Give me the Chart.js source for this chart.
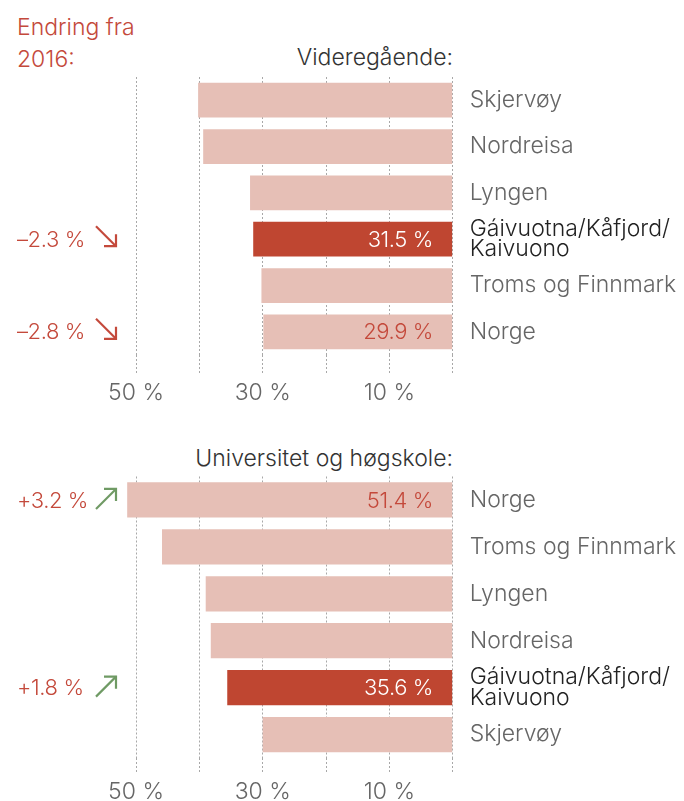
<!DOCTYPE html>
<html>
<head>
<meta charset="utf-8">
<script src="https://cdn.jsdelivr.net/npm/chart.js@4"></script>
<style>
  html, body { margin: 0; padding: 0; background: #fff; }
  body { width: 684px; height: 801px; position: relative; overflow: hidden;
         font-family: Inter, "Open Sans", sans-serif; font-weight: 300; }
  canvas { position: absolute; left: 0; }
  .txt { position: absolute; font-size: 23px; line-height: 32px; white-space: nowrap; }
  #endring { left: 17px; top: 11px; color: #c4493b; }
  .head { right: 231px; color: #333; }
</style>
</head>
<body>
<div class="txt" id="endring">Endring fra<br>2016:</div>
<div class="txt head" style="top:41px">Videregående:</div>
<div class="txt head" style="top:442px">Universitet og høgskole:</div>
<canvas id="chartVgs" width="684" height="410" style="top:0"></canvas>
<canvas id="chartUni" width="684" height="391" style="top:410px"></canvas>
<script>
// data
const catsVgs = ["Skjervøy", "Nordreisa", "Lyngen", ["Gáivuotna/Kåfjord/", "Kaivuono"], "Troms og Finnmark", "Norge"];
const valsVgs = [40.2, 39.4, 32.0, 31.5, 30.2, 29.9];
const changeVgs = [null, null, null, -2.3, null, -2.8];

const catsUni = ["Norge", "Troms og Finnmark", "Lyngen", "Nordreisa", ["Gáivuotna/Kåfjord/", "Kaivuono"], "Skjervøy"];
const valsUni = [51.4, 45.9, 39.0, 38.2, 35.6, 30.0];
const changeUni = [3.2, null, null, null, 1.8, null];

const xTicks = [0, 10, 20, 30, 40, 50];
const xLabelled = [50, 30, 10];
const xMax = 55;

// farger
const LIGHT = "#e6bfb6";
const DARK = "#bf4631";
const RED = "#c4493b";
const GREEN = "#6f9a64";
const FONT = "Inter, 'Open Sans', sans-serif";

function isHighlight(label) {
  return Array.isArray(label);
}

function fmt(v) {
  return v.toFixed(1) + " %";
}

function fmtChange(v) {
  return (v < 0 ? "\u2013" : "+") + Math.abs(v).toFixed(1) + " %";
}

// tekst og piler for endring + verdier i stolpene
const annotations = {
  id: "annotations",
  afterDatasetsDraw(chart, args, opts) {
    const ctx = chart.ctx;
    const y = chart.scales.y;
    const vals = chart.data.datasets[0].data;
    ctx.save();
    ctx.font = "300 22px " + FONT;
    ctx.letterSpacing = "-0.4px";
    ctx.textBaseline = "middle";
    opts.changes.forEach((c, i) => {
      if (c === null) return;
      const yc = y.getPixelForValue(i);
      const hl = isHighlight(chart.data.labels[i]);
      // verdi i stolpen
      ctx.fillStyle = hl ? "#fff" : RED;
      ctx.textAlign = "right";
      ctx.fillText(fmt(vals[i]), 433, yc + 1);
      // endring til venstre
      ctx.fillStyle = RED;
      ctx.textAlign = "left";
      ctx.fillText(fmtChange(c), 17, yc + 1);
      // pil
      const up = c > 0;
      const x0 = 96, x1 = 116;
      const ya = up ? yc + 9 : yc - 13;
      const yb = up ? yc - 11 : yc + 7;
      ctx.strokeStyle = up ? GREEN : RED;
      ctx.lineWidth = 2.2;
      ctx.beginPath();
      ctx.moveTo(x0, ya);
      ctx.lineTo(x1, yb);
      ctx.stroke();
      ctx.beginPath();
      ctx.moveTo(x1 - 12, yb);
      ctx.lineTo(x1, yb);
      ctx.lineTo(x1, up ? yb + 12 : yb - 12);
      ctx.stroke();
    });
    ctx.restore();
  }
};

function makeChart(id, cats, vals, changes, padTop, areaBottom, canvasH, tickLen) {
  const ctx = document.getElementById(id).getContext("2d");
  return new Chart(ctx, {
    type: "bar",
    data: {
      labels: cats,
      datasets: [{
        data: vals,
        backgroundColor: cats.map(c => isHighlight(c) ? DARK : LIGHT),
        borderWidth: 0,
        barPercentage: 0.75,
        categoryPercentage: 1
      }]
    },
    plugins: [annotations],
    options: {
      indexAxis: "y",
      responsive: false,
      animation: false,
      layout: { padding: { top: padTop, bottom: 0, left: 452.7 - xMax * 6.333, right: 0 } },
      plugins: {
        legend: { display: false },
        tooltip: { enabled: false },
        annotations: { changes }
      },
      scales: {
        x: {
          type: "linear",
          reverse: true,
          min: 0,
          max: xMax,
          afterBuildTicks: s => { s.ticks = xTicks.map(v => ({ value: v })); },
          afterFit: s => { s.height = canvasH - areaBottom; },
          border: { display: false, dash: [2, 2] },
          grid: {
            color: "#a8a8a8",
            lineWidth: 1,
            tickBorderDash: [2, 2],
            tickColor: "#a8a8a8",
            drawTicks: true,
            tickLength: tickLen
          },
          ticks: {
            padding: 4,
            maxRotation: 0,
            color: "#666",
            font: { family: FONT, size: 23, weight: 300 },
            callback: v => xLabelled.includes(v) ? v + " %" : ""
          }
        },
        y: {
          position: "right",
          afterFit: s => { s.width = 684 - 452.7; },
          border: { display: false },
          grid: { display: false, drawTicks: false },
          ticks: {
            padding: 17,
            crossAlign: "near",
            color: cats.map(c => isHighlight(c) ? "#222" : "#666"),
            font: { family: FONT, size: 23, weight: 300, lineHeight: 0.9 }
          }
        }
      }
    }
  });
}

makeChart("chartVgs", catsVgs, valsVgs, changeVgs, 77, 355, 410, 20);
makeChart("chartUni", catsUni, valsUni, changeUni, 66.5, 348, 391, 16);
</script>
</body>
</html>
